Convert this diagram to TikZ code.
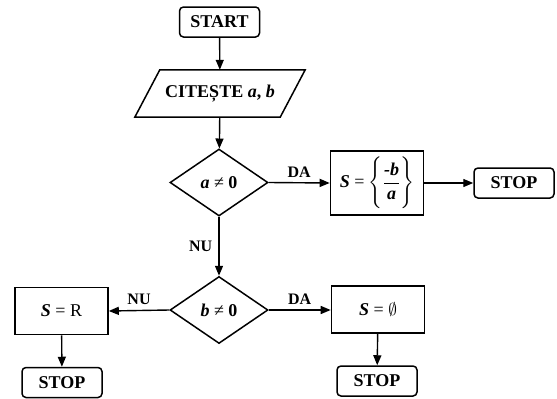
\documentclass[tikz,border=0pt]{standalone}
\usepackage{amsmath}
\usepackage{fontspec}
\setmainfont{Liberation Serif}
\usetikzlibrary{arrows.meta,shapes.geometric,calc}
\begin{document}
\begin{tikzpicture}[x=1pt,y=-1pt,
  font=\fontsize{18}{21}\selectfont\bfseries,
  every node/.style={inner sep=0pt},
  term/.style={draw,line width=1.5pt,rounded corners=4pt,minimum width=80pt,minimum height=30pt},
  proc/.style={draw,line width=1.6pt,minimum width=93pt,minimum height=47pt},
  dec/.style={draw,line width=1.5pt,diamond,aspect=1.5,minimum width=98pt,minimum height=67pt},
  arr/.style={line width=1.4pt,-{Triangle[length=10pt,width=8pt]}},
  lbl/.style={font=\fontsize{16}{19}\selectfont\bfseries}
]
\useasboundingbox (0,0) rectangle (557,399);

\node[term] (start) at (219.5,22) {START};
\node[minimum width=170pt,minimum height=47pt] (read) at (220,93.5) {CITEȘTE \textit{a}, \textit{b}};
\draw[line width=1.5pt] ($(read.north west)+(25pt,0pt)$) -- (read.north east)
  -- ($(read.south east)+(-25pt,0pt)$) -- (read.south west) -- cycle;

\node[dec] (d1) at (219,182.5) {\textit{a} \mdseries≠ \bfseries 0};
\node[proc,minimum height=64pt] (s1) at (377,183) {\textit{S} \mdseries= \bfseries$\Bigg\{\genfrac{}{}{1pt}{0}{\mbox{\bfseries\itshape -b}}{\mbox{\bfseries\itshape a}}\Bigg\}$};
\node[term] (stop1) at (514,183) {STOP};

\node[dec] (d2) at (219,310) {\textit{b} \mdseries≠ \bfseries 0};
\node[proc] (s2) at (61.5,311) {\textit{S} \mdseries= R};
\node[proc] (s3) at (378,309.5) {\textit{S} \mdseries= $\emptyset$};
\node[term] (stop2) at (62,382.5) {STOP};
\node[term] (stop3) at (377,381) {STOP};

\draw[arr] (start) -- (read);
\draw[arr] (read) -- (d1);
\draw[arr] (d1.east) -- (s1.west) node[lbl,midway,above=5pt] {DA};
\draw[arr] (s1) -- (stop1);
\draw[arr] (d1.south) -- (d2.north) node[lbl,midway,left=6pt] {NU};
\draw[arr] (d2.west) -- (s2.east) node[lbl,midway,above=5pt] {NU};
\draw[arr] (d2.east) -- (d2.east -| s3.west) node[lbl,midway,above=5pt] {DA};
\draw[arr] (s2) -- (stop2);
\draw[arr] (s3) -- (stop3);
\end{tikzpicture}
\end{document}
